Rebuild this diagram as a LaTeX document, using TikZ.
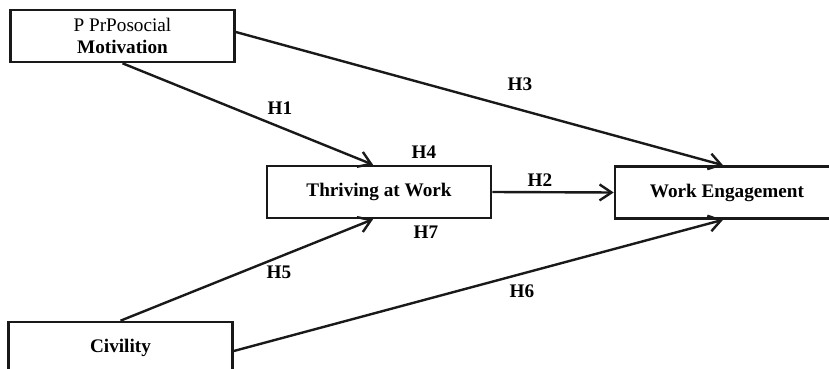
\documentclass[tikz,border=0pt]{standalone}
\usepackage{fontspec}
\setmainfont{Liberation Serif}
\usetikzlibrary{arrows.meta}
\begin{document}
\begin{tikzpicture}[x=0.5pt,y=-0.5pt,
  box/.style={draw=black!90,line width=1.3pt,rectangle,minimum width=112pt,minimum height=26pt,inner sep=0pt,align=center,font=\fontsize{9.6}{11}\selectfont},
  conn/.style={draw=black!90,line width=1.2pt},
  arr/.style={conn,-{Straight Barb[length=6pt,width=8pt,line width=1.2pt]}},
  lbl/.style={font=\fontsize{9.6}{11}\selectfont\bfseries,inner sep=0pt}]
\useasboundingbox (0,0) rectangle (829,369);
\fill[white] (0,0) rectangle (829,369);
\clip (0,0) rectangle (829,369);
\node[box] (pro) at (122.5,36) {P PrPosocial\\\textbf{Motivation}};
\node[box] (thr) at (379,192) {\textbf{Thriving at Work}};
\node[box] (we) at (727,192.5) {\textbf{Work Engagement}};
\node[box] (civ) at (120.5,348) {\textbf{Civility}};
\draw[arr] (pro.south) -- ([xshift=-3pt]thr.north);
\draw[arr] ([yshift=2pt]pro.east) -- ([xshift=-2pt]we.north);
\draw[arr] (thr.east) -- (we.west);
\draw[arr] (civ.north) -- ([xshift=-3pt]thr.south);
\draw[arr] ([yshift=-1.5pt]civ.east) -- ([xshift=-2pt]we.south);
\node[lbl] (h1) at (280,108) {H1};
\node[lbl] (h3) at (520,84) {H3};
\node[lbl] (h4) at (424,152) {H4};
\node[lbl] (h2) at (540,180) {H2};
\node[lbl] (h7) at (426,232) {H7};
\node[lbl] (h5) at (279,272) {H5};
\node[lbl] (h6) at (522,291) {H6};
\end{tikzpicture}
\end{document}
